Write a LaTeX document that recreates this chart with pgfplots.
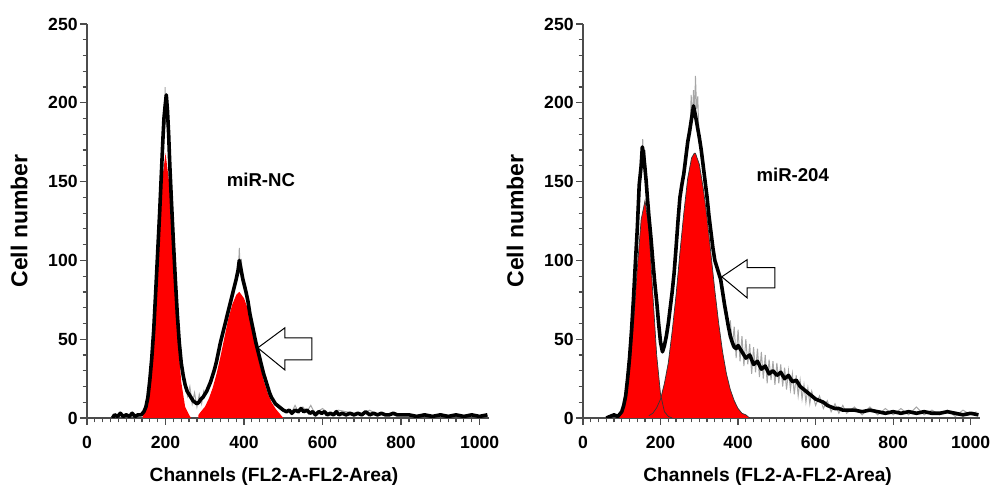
\documentclass[border=0pt]{standalone}
\usepackage{pgfplots}
\pgfplotsset{compat=1.18}
\usepackage{fontspec}
\setmainfont{Liberation Sans}

\pgfplotsset{
  flow/.style={
    scale only axis,
    height=197pt,
    xmin=0, xmax=1024, ymin=0, ymax=250,
    axis x line=bottom, axis y line=left,
    axis line style={-, gray!60!black, line width=0.9pt},
    tick style={gray!60!black, line width=0.6pt},
    tick align=outside,
    major tick length=3.5pt, minor tick length=2.2pt,
    xtick={0,200,...,1000}, ytick={0,50,...,250},
    minor x tick num=9, minor y tick num=4,
    /pgf/number format/assume math mode=true,
    /pgf/number format/1000 sep={},
    ticklabel style={font=\bfseries\fontsize{8.8}{9}\selectfont},
    xticklabel style={yshift=-2pt},
    yticklabel style={inner sep=1pt},
    xlabel={Channels (FL2-A-FL2-Area)},
    ylabel={Cell number},
    xlabel style={font=\bfseries\fontsize{9.6}{10}\selectfont, at={(axis description cs:0.465,0)}, anchor=center, yshift=-29.5pt},
    ylabel style={font=\bfseries\fontsize{11.5}{12}\selectfont, anchor=center},
  },
  redpeak/.style={fill=red, draw=none},
  peakline/.style={draw=black!80, line width=0.35pt},
  noise/.style={gray!70, line width=0.5pt},
  hist/.style={black, line width=1.8pt, line join=round},
}

\begin{document}
\begin{tikzpicture}
\path[use as bounding box] (0,0) rectangle (497pt,245.5pt);

% ---- miR-NC ----
\begin{axis}[flow, width=201pt, at={(43.5pt,36.5pt)}, anchor=south west,
    ylabel style={at={(axis description cs:-0.169,0.5)}}]
  % G1 peak
  \addplot[redpeak] coordinates {
    (142,0)(142,2)(150,7)(160,23)(170,55)(180,102)(190,148)(200,168)
    (210,148)(220,102)(230,55)(240,23)(250,7)(260,2)(265,0)} \closedcycle;
  % G2 peak
  \addplot[redpeak] coordinates {
    (284,0)(284,2)(290,4)(300,7)(310,12)(320,19)(330,28)(340,39)(350,51)
    (360,63)(370,72)(380,78)(388,80)(400,76)(410,69)(420,58)(430,46)
    (440,34)(450,24)(460,16)(470,10)(480,6)(490,3)(500,0)} \closedcycle;
  \addplot[noise] coordinates {
    (192,165)(195,182)(197,178)(199,210)(201,186)(203,202)(206,176)(209,168)};
  \addplot[noise] coordinates {
    (383,88)(386,96)(388,108)(390,94)(393,101)(396,90)};
  \addplot[noise] coordinates {
    (250,24)(256,14)(262,20)(268,9)(274,16)(280,7)(286,15)(292,9)(298,18)};
  \addplot[noise] coordinates {
    (520,3)(530,8)(540,3)(550,7)(560,4)(570,8)(580,3)(600,6)(620,2)(640,5)(700,2)(720,5)(740,2)};
  \addplot[hist] coordinates {
    (65,0)(70,2)(78,1)(85,3)(92,1)(100,2)(108,1)(115,3)(122,1)(130,2)(138,2)
    (145,4)(150,7)(155,13)(160,24)(165,38)(170,56)(175,80)(180,105)(185,130)
    (190,158)(193,175)(196,190)(199,198)(202,205)(205,195)(208,180)(211,160)
    (215,138)(220,112)(225,88)(230,66)(235,48)(240,35)(245,27)(250,21)
    (255,17)(260,15)(265,13)(270,11)(275,10)(280,9)(285,10)(290,12)(295,13)
    (300,15)(305,17)(310,20)(315,23)(320,27)(325,31)(330,36)(335,42)(340,48)
    (345,53)(350,58)(355,63)(360,68)(365,73)(370,78)(375,83)(380,88)(385,94)
    (388,100)(391,96)(394,92)(397,88)(400,85)(405,80)(410,74)(415,66)(420,60)
    (425,54)(430,48)(435,43)(440,38)(445,33)(450,28)(455,24)(460,20)(465,16)
    (470,13)(475,11)(480,9)(485,8)(490,7)(495,6)(500,5)(508,4)(515,5)(522,3)
    (530,5)(538,4)(545,6)(552,4)(560,5)(568,3)(575,4)(582,2)(590,4)(598,3)
    (605,4)(612,2)(620,3)(628,2)(635,4)(642,2)(650,3)(660,2)(670,3)(680,2)
    (690,3)(700,2)(710,4)(720,2)(730,3)(740,2)(750,3)(760,2)(770,2)(780,3)
    (790,2)(800,2)(820,2)(840,1)(860,2)(880,1)(900,2)(920,1)(940,2)(960,1)
    (980,2)(1000,1)(1020,2)};
  \draw[fill=white, line width=0.5pt] (axis cs:435,44.5) -- (axis cs:504,57.2)
    -- (axis cs:504,50.9) -- (axis cs:573,50.9) -- (axis cs:573,36.9)
    -- (axis cs:504,36.9) -- (axis cs:504,30.5) -- cycle;
  \node[font=\bfseries\fontsize{9.3}{10}\selectfont] at (axis cs:443,151) {miR-NC};
\end{axis}

% ---- miR-204 ----
\begin{axis}[flow, width=198.5pt, at={(291.5pt,36.5pt)}, anchor=south west,
    ylabel style={at={(axis description cs:-0.171,0.5)}}]
  % G2/M peak
  \addplot[redpeak] coordinates {
    (170,0)(170,1.5)(180,3)(190,6.5)(200,12)(210,22)(220,35)(230,55)(240,78)
    (250,105)(260,130)(270,152)(280,165)(287,168)(290,168)(300,161)(310,146)
    (320,127)(330,104)(340,81)(350,60)(360,42)(370,28)(380,18)(390,11)
    (400,6)(410,3)(420,2)(430,0)} \closedcycle;
  % G1 peak
  \addplot[redpeak] coordinates {
    (90,0)(90,1.3)(100,4.6)(110,13)(120,30)(130,59)(140,95)(150,126)(160,138)
    (170,120)(180,79)(190,40)(200,15)(210,4)(220,1)(230,0)} \closedcycle;
  \addplot[peakline] coordinates {
    (90,1.3)(100,4.6)(110,13)(120,30)(130,59)(140,95)(150,126)(160,138)
    (170,120)(180,79)(190,40)(200,15)(210,4)(220,1)(230,0)};
  \addplot[peakline] coordinates {
    (170,1.5)(180,3)(190,6.5)(200,12)(210,22)(220,35)(230,55)(240,78)
    (250,105)(260,130)(270,152)(280,165)(287,168)(290,168)(300,161)(310,146)
    (320,127)(330,104)(340,81)(350,60)(360,42)(370,28)(380,18)(390,11)
    (400,6)(410,3)(420,2)(430,0)};
  \addplot[noise] coordinates {
    (146,150)(149,168)(152,160)(154,177)(157,158)(160,170)(163,148)};
  \addplot[noise] coordinates {
    (276,180)(279,205)(282,188)(285,208)(288,192)(290,217)(293,196)(296,204)(299,178)};
  \addplot[noise] coordinates {
    (380,62)(385,45)(390,58)(395,38)(400,56)(405,36)(410,52)(415,33)(420,50)
    (425,34)(430,47)(435,28)(440,45)(445,29)(450,44)(455,26)(460,42)(465,25)
    (470,40)(475,22)(480,37)(485,24)(490,36)(495,21)(500,35)(505,22)(510,34)
    (515,20)(520,32)(525,18)(530,30)(535,18)(540,28)(545,15)(550,27)(555,14)
    (560,24)(565,12)(570,21)(575,10)(580,19)(585,9)(590,17)(600,8)(610,14)
    (620,6)(630,11)(640,4)(650,9)(660,3)(670,8)(680,3)(700,7)(720,2)(740,7)
    (760,2)(780,6)(800,2)(820,6)(840,2)(860,7)(880,2)(900,5)(920,2)(940,5)
    (960,1)(980,5)(1000,2)(1015,4)};
  \addplot[hist] coordinates {
    (60,0)(70,1)(80,2)(90,1)(100,4)(105,8)(110,14)(115,25)(120,38)(125,55)
    (130,75)(135,98)(140,120)(145,148)(150,160)(153,172)(156,168)(160,158)
    (163,150)(166,140)(170,128)(175,115)(180,100)(185,86)(190,74)(195,60)
    (200,48)(205,42)(210,46)(215,52)(220,60)(225,70)(230,80)(235,92)(240,108)
    (245,125)(250,140)(255,148)(260,155)(265,165)(270,175)(275,182)(280,190)
    (285,198)(290,192)(295,185)(300,178)(305,170)(310,160)(315,150)(320,140)
    (325,128)(330,118)(335,108)(340,100)(345,96)(350,92)(355,88)(360,80)
    (365,72)(370,65)(375,58)(380,52)(385,48)(390,45)(395,44)(400,46)(410,42)
    (420,38)(430,40)(440,34)(450,36)(460,31)(470,33)(480,28)(490,30)(500,27)
    (510,29)(520,25)(530,27)(540,23)(550,24)(560,20)(570,18)(580,16)(590,14)
    (600,12)(610,11)(620,10)(630,8)(640,7)(650,6)(660,6)(670,5)(680,5)
    (700,5)(720,4)(740,5)(760,4)(780,3)(800,4)(820,3)(840,4)(860,3)(880,4)
    (900,3)(920,3)(940,4)(960,3)(980,2)(1000,3)(1020,2)};
  \draw[fill=white, line width=0.5pt] (axis cs:358,89.6) -- (axis cs:423,100.4)
    -- (axis cs:423,95.4) -- (axis cs:495,95.4) -- (axis cs:495,82.6)
    -- (axis cs:423,82.6) -- (axis cs:423,76.3) -- cycle;
  \node[font=\bfseries\fontsize{9.3}{10}\selectfont] at (axis cs:541,154) {miR-204};
\end{axis}
\end{tikzpicture}
\end{document}
